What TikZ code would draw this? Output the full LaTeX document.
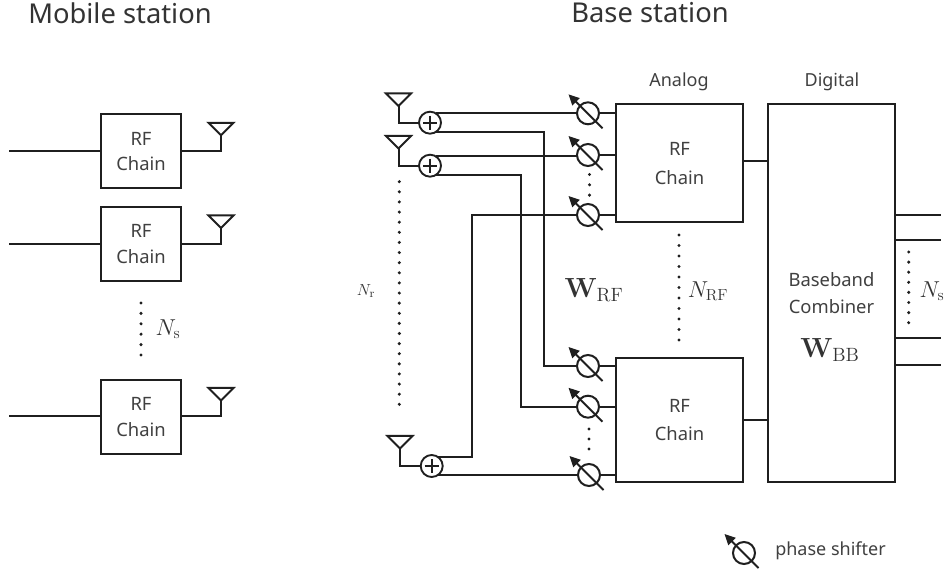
\documentclass[tikz,border=0pt]{standalone}
\usepackage[no-math]{fontspec}
\usetikzlibrary{arrows.meta}
\newfontfamily\lab{Noto Sans}
\def\uu{0.75pt}
\tikzset{
  wire/.style={line width=1.5pt,black!88},
  box/.style={draw=black!88,line width=1.5pt,fill=white,inner sep=0pt,outer sep=0pt,align=center,font=\lab\fontsize{13.8pt}{19pt}\selectfont,text=black!75},
  bigbox/.style={box,font=\lab\fontsize{13.8pt}{21.5pt}\selectfont},
  phs/.style={circle,draw=black!88,line width=1.5pt,minimum size=22*\uu,inner sep=0pt,outer sep=0pt},
  sumn/.style={circle,draw=black!88,line width=1.4pt,minimum size=22*\uu,inner sep=0pt,outer sep=0pt,fill=white},
  lbl/.style={font=\lab\fontsize{13.5pt}{18pt}\selectfont,text=black!75,inner sep=0pt},
  ttl/.style={font=\lab\fontsize{20.5pt}{24pt}\selectfont,text=black!80,inner sep=0pt},
  mth/.style={text=black!80,inner sep=0pt},
  dotn/.style={circle,fill=black!88,minimum size=3.4*\uu,inner sep=0pt,outer sep=0pt},
}
\newcommand{\ant}[1]{\draw[wire,line join=miter] (#1) -- ++(-12.5,-12.5) -- ++(25,0) -- cycle;}
\newcommand{\sumc}[3]{\node[sumn] (#1) at (#2,#3) {};
  \draw[wire,line width=1.4pt] (#1.center) ++(-7,0) -- ++(14,0);
  \draw[wire,line width=1.4pt] (#1.center) ++(0,-7) -- ++(0,14);}
\newcommand{\pshift}[3]{\node[phs] (#1) at (#2,#3) {};
  \draw[wire,-{Triangle[length=8pt,width=7.5pt]}] (#1.center) ++(14.5,15) -- ++(-34,-34);}
\begin{document}
\begin{tikzpicture}[x=\uu,y=-\uu]
\useasboundingbox[fill=white] (0,0) rectangle (946,573);
% titles
\node[ttl] (tm) at (120,13) {Mobile station};
\node[ttl] (tb) at (650,13) {Base station};
\node[lbl] (tan) at (679,81.5) {Analog};
\node[lbl] (tdi) at (832,81.5) {Digital};
% mobile station
\node[box,minimum width=80*\uu,minimum height=74*\uu] (m1) at (141,151.3) {RF\\Chain};
\node[box,minimum width=80*\uu,minimum height=74*\uu] (m2) at (141,244) {RF\\Chain};
\node[box,minimum width=80*\uu,minimum height=74*\uu] (m3) at (141,417) {RF\\Chain};
\coordinate (mi1) at (9,151.3); \coordinate (mi2) at (9,244); \coordinate (mi3) at (9,416.5);
\coordinate (ma1) at (221,135.3); \coordinate (ma2) at (221,228); \coordinate (ma3) at (221,400.5);
\foreach \i in {1,2,3}{
  \draw[wire] (mi\i) -- (m\i.west |- mi\i);
  \draw[wire] (m\i.east |- mi\i) -| (ma\i);
  \ant{ma\i}
}
\foreach \i in {0,...,5}{ \node[dotn] (mdot\i) at (141,303+10.4*\i) {}; }
\node[mth] (mns) at (168,329) {\fontsize{17pt}{19pt}\selectfont $N_{\mathrm{s}}$};
% base station boxes
\node[bigbox,minimum width=127*\uu,minimum height=117.5*\uu] (b1) at (679.5,163.25) {RF\\Chain};
\node[bigbox,minimum width=127*\uu,minimum height=123.5*\uu] (b2) at (679.5,420) {RF\\Chain};
\node[box,minimum width=126.5*\uu,minimum height=377.5*\uu] (bb) at (831.25,293.25) {};
\node[lbl,align=center,font=\lab\fontsize{13.8pt}{20.2pt}\selectfont] (bbt) at (831.5,293.5) {Baseband\\Combiner};
\node[mth] (wbb) at (830,350) {\fontsize{22.5pt}{24pt}\selectfont $\mathbf{W}_{\mathrm{BB}}$};
\draw[wire] (b1.east |- 0,161) -- (bb.west |- 0,161);
\draw[wire] (b2.east |- 0,420) -- (bb.west |- 0,420);
% phase shifters
\pshift{p1}{588}{113.3}
\pshift{p2}{588}{155}
\pshift{p3}{588}{215}
\pshift{p4}{588}{366}
\pshift{p5}{588}{406.7}
\pshift{p6}{589}{475}
\foreach \i in {1,2,3}{ \draw[wire] (p\i.east) -- (b1.west |- p\i.east); }
\foreach \i in {4,5,6}{ \draw[wire] (p\i.east) -- (b2.west |- p\i.east); }
% antennas and combiners
\coordinate (a1) at (398.5,106); \coordinate (a2) at (398.5,148.5); \coordinate (a3) at (400,448.5);
\foreach \i in {1,2,3}{ \ant{a\i} }
\sumc{s1}{430}{122.7}
\sumc{s2}{430}{165.7}
\sumc{s3}{431.7}{466}
\draw[wire] (a1) |- (s1.west);
\draw[wire] (a2) |- (s2.west);
\draw[wire] (a3) |- (s3.west);
\coordinate (j1) at (544.3,366);
\coordinate (j2) at (521,406.7);
\coordinate (j3) at (471.7,215);
\draw[wire] (s1.58) -- (s1.58 -| p1.west);
\draw[wire] (s2.58) -- (s2.58 -| p2.west);
\draw[wire] (s1.-58) -| (j1) -- (p4.west);
\draw[wire] (s2.-58) -| (j2) -- (p5.west);
\draw[wire] (s3.58) -| (j3) -- (p3.west);
\draw[wire] (s3.-58) -- (s3.-58 -| p6.west);
% dots
\foreach \i in {0,...,22}{ \node[dotn] (adot\i) at (399.3,181.7+10.12*\i) {}; }
\foreach \i in {0,1,2}{ \node[dotn] (pa\i) at (589.5,174.5+10.3*\i) {}; }
\foreach \i in {0,1,2}{ \node[dotn] (pb\i) at (589,429+10*\i) {}; }
\foreach \i in {0,...,10}{ \node[dotn] (rfd\i) at (679,235+10.5*\i) {}; }
\foreach \i in {0,...,7}{ \node[dotn] (nsd\i) at (908.7,252+10.1*\i) {}; }
% outputs
\coordinate (o1) at (941,215); \coordinate (o2) at (941,239.7);
\coordinate (o3) at (941,338); \coordinate (o4) at (941,365);
\foreach \i in {1,2,3,4}{ \draw[wire] (bb.east |- o\i) -- (o\i); }
% math labels
\node[mth] (nr) at (366,291) {\fontsize{13pt}{15pt}\selectfont $N_{\mathrm{r}}$};
\node[mth] (wrf) at (594,290) {\fontsize{22.5pt}{24pt}\selectfont $\mathbf{W}_{\mathrm{RF}}$};
\node[mth] (nrf) at (708,291) {\fontsize{16.5pt}{18pt}\selectfont $N_{\mathrm{RF}}$};
\node[mth] (ns2) at (932,291) {\fontsize{16.5pt}{18pt}\selectfont $N_{\mathrm{s}}$};
% legend
\pshift{pl}{744}{553}
\node[lbl,anchor=west] (ltxt) at (775,551) {phase shifter};
\end{tikzpicture}
\end{document}
